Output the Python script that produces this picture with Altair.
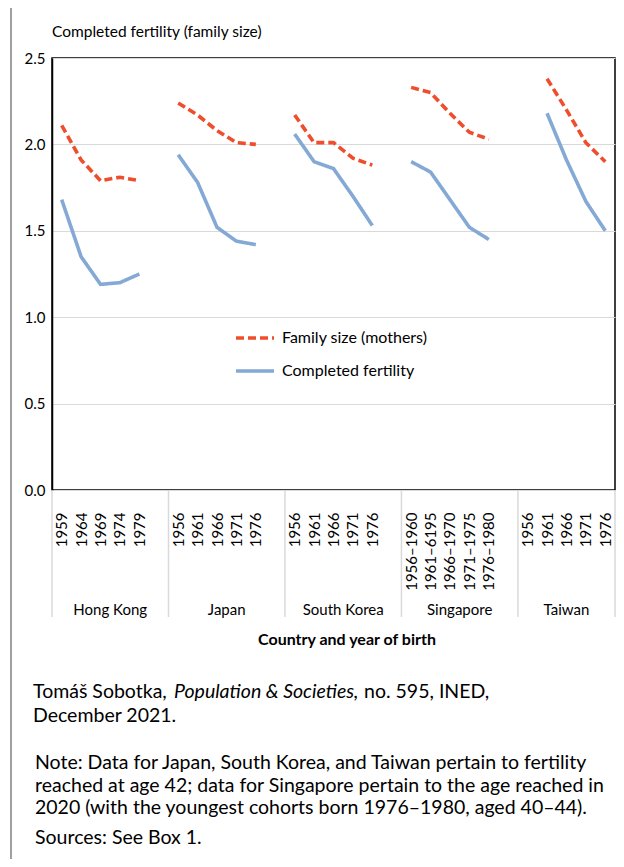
import altair as alt
import pandas as pd

# ---------------- data ----------------
countries = ["Hong Kong", "Japan", "South Korea", "Singapore", "Taiwan"]

hk_years = ["1959", "1964", "1969", "1974", "1979"]
jp_years = ["1956", "1961", "1966", "1971", "1976"]
kr_years = ["1956", "1961", "1966", "1971", "1976"]
sg_years = ["1956–1960", "1961–6195", "1966–1970", "1971–1975", "1976–1980"]
tw_years = ["1956", "1961", "1966", "1971", "1976"]

hk_family = [2.11, 1.91, 1.79, 1.81, 1.79]
jp_family = [2.24, 2.17, 2.08, 2.01, 2.00]
kr_family = [2.17, 2.01, 2.01, 1.92, 1.88]
sg_family = [2.33, 2.30, 2.18, 2.07, 2.03]
tw_family = [None, 2.38, 2.20, 2.01, 1.90]

hk_completed = [1.68, 1.35, 1.19, 1.20, 1.25]
jp_completed = [1.94, 1.78, 1.52, 1.44, 1.42]
kr_completed = [2.06, 1.90, 1.86, 1.70, 1.53]
sg_completed = [1.90, 1.84, 1.68, 1.52, 1.45]
tw_completed = [None, 2.18, 1.91, 1.67, 1.50]

series_names = ["Family size (mothers)", "Completed fertility"]
y_ticks = [0.0, 0.5, 1.0, 1.5, 2.0, 2.5]

title_text = "Completed fertility (family size)"
xtitle_text = "Country and year of birth"
src_a = "Tomáš Sobotka,"
src_b = "Population & Societies,"
src_c = "no. 595, INED,"
src_d = "December 2021."
note_1 = "Note: Data for Japan, South Korea, and Taiwan pertain to fertility"
note_2 = "reached at age 42; data for Singapore pertain to the age reached in"
note_3 = "2020 (with the youngest cohorts born 1976–1980, aged 40–44)."
sources = "Sources: See Box 1."

# ---------------- tables ----------------
all_years = [hk_years, jp_years, kr_years, sg_years, tw_years]
all_family = [hk_family, jp_family, kr_family, sg_family, tw_family]
all_completed = [hk_completed, jp_completed, kr_completed, sg_completed, tw_completed]

SLOTS = 6  # 5 cohorts + 1 empty slot between countries
n_slots = SLOTS * len(countries) - 1

rows = []
label_by_index = [""] * n_slots
for g, c in enumerate(countries):
    for i in range(5):
        idx = g * SLOTS + i
        label_by_index[idx] = all_years[g][i]
        for s, vals in zip(series_names, [all_family[g], all_completed[g]]):
            if vals[i] is not None:
                rows.append({"idx": idx, "value": vals[i], "series": s, "country": c})
df = pd.DataFrame(rows)

tick_idx = [g * SLOTS + i for g in range(len(countries)) for i in range(5)]
seps = [g * SLOTS - 0.5 for g in range(len(countries))] + [n_slots - 0.5]
df_sep = pd.DataFrame({"x": seps})
df_grp = pd.DataFrame({"x": [(seps[k] + seps[k + 1]) / 2 for k in range(len(countries))],
                       "name": countries})

label_expr = "[" + ",".join("'" + s + "'" for s in label_by_index) + "][datum.value]"

W, H = 563, 432
FONT = "Lato"
RED = "#EF4E2D"
BLUE = "#84A9D5"
FOOT = 19.5

xscale = alt.Scale(domain=[-0.5, n_slots - 0.5], nice=False, zero=False)
x_axis = alt.Axis(values=tick_idx, labelExpr=label_expr, labelAngle=270,
                  labelAlign="right", labelBaseline="middle", labelPadding=22,
                  ticks=False, tickSize=0, domain=False, grid=False,
                  labelOverlap=False, labelFlush=False, labelFontSize=15,
                  labelColor="black", title=None)

lines = alt.Chart(df).mark_line(strokeWidth=3.6).encode(
    x=alt.X("idx:Q", scale=xscale, axis=x_axis),
    y=alt.Y("value:Q", scale=alt.Scale(domain=[0, 2.5], nice=False),
            axis=alt.Axis(values=y_ticks, format=".1f", ticks=False, labelPadding=7,
                          labelFontSize=15, labelColor="black", domainColor="black",
                          domainWidth=1.5, gridColor="#d9d9d9", gridWidth=1.2,
                          title=None)),
    color=alt.Color("series:N", scale=alt.Scale(domain=series_names, range=[RED, BLUE]),
                    legend=alt.Legend(orient="none", legendX=182, legendY=259, title=None,
                                      labelFontSize=16, labelColor="black",
                                      symbolSize=1444, symbolStrokeWidth=3.6,
                                      labelOffset=6, rowPadding=4)),
    strokeDash=alt.StrokeDash("series:N",
                              scale=alt.Scale(domain=series_names, range=[[8, 4], [1, 0]]),
                              legend=alt.Legend(orient="none", legendX=182, legendY=259,
                                                title=None)),
    detail="country:N",
)

sep_rules = alt.Chart(df_sep).mark_rule(color="#d9d9d9", strokeWidth=1.5).encode(
    x=alt.X("x:Q", scale=xscale, axis=x_axis), y=alt.value(H), y2=alt.value(H + 127))

grp_text = alt.Chart(df_grp).mark_text(fontSize=15, baseline="middle", color="black").encode(
    x=alt.X("x:Q", scale=xscale, axis=x_axis), y=alt.value(H + 120), text="name:N")

def txt(s, x, y, size=FOOT, align="left", weight="normal", style="normal"):
    return alt.Chart(pd.DataFrame({"t": [s]})).mark_text(
        fontSize=size, align=align, baseline="middle", fontWeight=weight,
        fontStyle=style, color="black").encode(
        x=alt.value(x), y=alt.value(y), text="t:N")

left_line = alt.Chart(pd.DataFrame({"a": [0]})).mark_rule(color="#a0a0a0", strokeWidth=2).encode(
    x=alt.value(-41), y=alt.value(-60), y2=alt.value(815))

texts = [
    txt(title_text, 0, -26, size=15.5),
    txt(xtitle_text, 295, 582, size=16, align="center", weight="bold"),
    txt(src_a, -19, 634),
    txt(src_b, 122, 634, style="italic"),
    txt(src_c, 312, 634),
    txt(src_d, -19, 658),
    txt(note_1, -17, 705),
    txt(note_2, -17, 728),
    txt(note_3, -17, 750),
    txt(sources, -17, 780),
]

chart = alt.layer(lines, left_line, sep_rules, grp_text, *texts).properties(
    width=W, height=H,
    autosize=alt.AutoSizeParams(type="none"),
    padding={"left": 44, "top": 50, "right": 1, "bottom": 369},
).configure(font=FONT).configure_view(stroke="black", strokeWidth=1.5)

chart.save("out.html", embed_options={"renderer": "svg", "actions": False})
